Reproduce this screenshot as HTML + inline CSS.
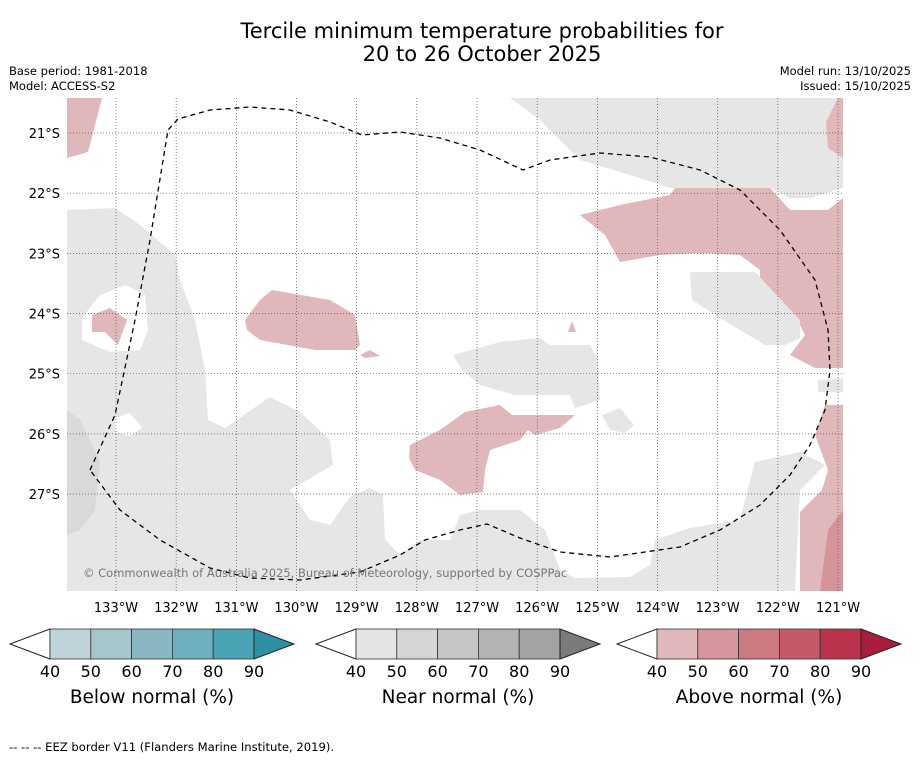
<!DOCTYPE html>
<html><head><meta charset="utf-8"><style>
body{margin:0;background:#fff;font-family:"DejaVu Sans","Liberation Sans",sans-serif;}
svg text{font-family:"DejaVu Sans","Liberation Sans",sans-serif;}
</style></head><body>
<svg id="chart" width="919" height="758" viewBox="0 0 919 758" xmlns="http://www.w3.org/2000/svg">
<text x="482" y="38" font-size="21" text-anchor="middle">Tercile minimum temperature probabilities for</text>
<text x="482" y="61" font-size="21" text-anchor="middle">20 to 26 October 2025</text>
<text x="9" y="75" font-size="11.5">Base period: 1981-2018</text>
<text x="9" y="90" font-size="11.5">Model: ACCESS-S2</text>
<text x="911" y="75" font-size="11.5" text-anchor="end">Model run: 13/10/2025</text>
<text x="911" y="90" font-size="11.5" text-anchor="end">Issued: 15/10/2025</text>
<defs><clipPath id="mapclip"><rect x="67" y="98" width="776" height="493"/></clipPath></defs>
<g id="map" clip-path="url(#mapclip)">
<rect x="67" y="98" width="776" height="493" fill="#fff"/>
<polygon fill="#e6e6e6" points="67,210 115,208 140,225 175,255 180,280 195,320 205,370 208,420 225,428 270,397 300,412 330,440 333,465 290,490 310,520 330,525 350,497 370,488 383,495 385,540 400,555 420,540 450,540 460,515 480,510 520,510 545,530 560,570 575,578 630,577 650,565 655,540 690,528 740,520 755,462 800,452 825,465 800,490 795,591 67,591"/>
<polygon fill="#fff" points="82,318 100,295 125,285 145,295 148,330 140,350 110,352 82,340"/>
<polygon fill="#fff" points="115,418 130,413 142,428 130,436 115,432"/>
<polygon fill="#d9d9d9" points="67,410 80,420 100,460 95,510 80,530 67,535"/>
<polygon fill="#e0b8bc" points="92,315 110,308 127,320 118,345 105,332 92,332"/>
<polygon fill="#e0b8bc" points="67,98 102,98 88,152 67,158"/>
<polygon fill="#e6e6e6" points="510,98 843,98 843,188 810,198 790,198 770,188 670,188 630,175 580,160 540,120"/>
<polygon fill="#e0b8bc" points="838,98 843,98 843,158 828,148 826,122"/>
<polygon fill="#e0b8bc" points="580,215 620,205 670,195 675,188 770,188 790,210 828,210 843,198 843,368 815,368 790,355 805,335 795,315 760,280 760,270 740,255 700,253 660,255 620,262 605,235"/>
<polygon fill="#e6e6e6" points="690,272 755,272 800,320 800,338 785,345 765,345 720,318 692,300"/>
<polygon fill="#e0b8bc" points="245,320 260,300 272,290 330,300 355,315 360,345 355,350 315,350 260,340 247,330"/>
<polygon fill="#e0b8bc" points="360,355 370,350 380,356 365,358"/>
<polygon fill="#e0b8bc" points="568,332 572,321 576,332"/>
<polygon fill="#e6e6e6" points="453,355 500,342 540,338 550,345 590,345 598,360 600,400 575,408 570,395 515,395 480,385 462,370"/>
<polygon fill="#e0b8bc" points="410,445 440,430 465,412 500,405 512,415 575,415 560,428 535,435 528,430 520,440 490,450 485,470 483,492 460,495 440,480 415,470 409,458"/>
<polygon fill="#e6e6e6" points="602,415 620,408 634,425 625,433 610,430"/>
<polygon fill="#e6e6e6" points="818,380 843,378 843,392 818,392"/>
<polygon fill="#e0b8bc" points="800,591 800,512 822,490 828,470 815,435 825,405 843,405 843,591"/>
<polygon fill="#d4949a" points="820,591 828,530 843,510 843,591"/>
<g id="grid"></g>
<polyline fill="none" stroke="#000" stroke-width="1.3" stroke-dasharray="5,4" points="90,470 115,415 135,320 150,240 168,130 178,119 210,110 250,107 290,110 330,122 362,135 400,132 440,138 480,150 523,170 550,160 600,153 650,157 700,170 740,190 780,230 815,280 828,330 830,370 825,410 810,445 790,475 760,505 720,530 680,547 610,557 560,552 520,538 487,524 460,530 425,540 400,555 360,572 300,580 250,578 210,568 160,540 120,510 90,470"/>
<text x="83" y="577" font-size="11.5" fill="#777">© Commonwealth of Australia 2025, Bureau of Meteorology, supported by COSPPac</text>
</g>
<g id="axes"></g>
<g id="bars"></g>
<text x="9" y="751" font-size="11.6">--  --  -- EEZ border V11 (Flanders Marine Institute, 2019).</text>
</svg>
<script>
const lonTicks=[-133,-132,-131,-130,-129,-128,-127,-126,-125,-124,-123,-122,-121];
const latTicks=[-21,-22,-23,-24,-25,-26,-27];
const levels=[40,50,60,70,80,90];
const belowColors=["#bfd4da","#a6c6cb","#89b7c1","#6dafbd","#49a3b3"];
const nearColors=["#e4e4e4","#d6d6d6","#c6c6c6","#b4b4b4","#a3a3a3"];
const aboveColors=["#e0b8bc","#d5979d","#cd7a82","#c45a68","#bb324c"];
const endColors=["#2f8fa3","#7b7b7b","#a81c3c"];
const cbTitles=["Below normal (%)","Near normal (%)","Above normal (%)"];
const NS="http://www.w3.org/2000/svg";
const px=60.17;
const xS=lon=>116+(lon+133)*px;
const yS=lat=>133+(-21-lat)*px;
function mk(t,a,p){const e=document.createElementNS(NS,t);for(const k in a)e.setAttribute(k,a[k]);p.appendChild(e);return e;}
const grid=document.getElementById('grid'),axes=document.getElementById('axes'),bars=document.getElementById('bars');
lonTicks.forEach(l=>{
 const g=mk('line',{x1:xS(l),x2:xS(l),y1:98,y2:591,stroke:'#555','stroke-width':0.7,'stroke-dasharray':'1,2'},grid);
 
 
 const t=mk('text',{x:xS(l),y:612,'font-size':13,'text-anchor':'middle'},axes);
 t.textContent=Math.abs(l)+'°W';
 
 
});
latTicks.forEach(l=>{
 const g=mk('line',{x1:67,x2:843,y1:yS(l),y2:yS(l),stroke:'#555','stroke-width':0.7,'stroke-dasharray':'1,2'},grid);
 
 
 const t=mk('text',{x:60,y:yS(l)+5,'font-size':13,'text-anchor':'end'},axes);
 t.textContent=Math.abs(l)+'°S';
 
 
});
const offs=[10,316,617];
[belowColors,nearColors,aboveColors].forEach((cols,i)=>{
 const x0=offs[i]+40,w=40.8,y0=629,h=30;
 const g=mk('g',{},bars);
 
 
 mk('polygon',{points:`${x0},${y0} ${offs[i]},${y0+h/2} ${x0},${y0+h}`,fill:'#fff',stroke:'#222','stroke-width':1},g);
 cols.forEach((c,j)=>{
  const r=mk('rect',{x:x0+j*w,y:y0,width:w,height:h,fill:c,stroke:'#333','stroke-width':0.8},g);
  
  
 });
 const xe=x0+cols.length*w;
 mk('polygon',{points:`${xe},${y0} ${xe+40},${y0+h/2} ${xe},${y0+h}`,fill:endColors[i],stroke:'#222','stroke-width':1},g);
 levels.forEach((v,j)=>{
  const t=mk('text',{x:x0+j*w,y:677,'font-size':16,'text-anchor':'middle'},g);
  t.textContent=v;
  
  
 });
 const tt=mk('text',{x:x0+cols.length*w/2,y:703,'font-size':18.5,'text-anchor':'middle'},g);
 tt.textContent=cbTitles[i];
 
 
});
</script>
</body></html>
